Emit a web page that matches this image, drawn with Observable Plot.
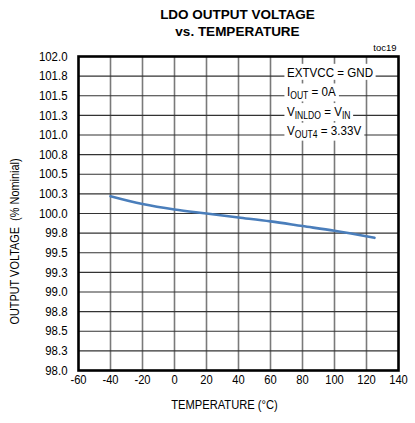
<!DOCTYPE html>
<html><head><meta charset="utf-8">
<script src="https://cdn.jsdelivr.net/npm/d3@7"></script>
<script src="https://cdn.jsdelivr.net/npm/@observablehq/plot@0.6"></script>
<style>
html,body{margin:0;padding:0;background:#fff;}
#wrap{width:415px;font-family:"Liberation Sans",Arial,sans-serif;}
#title{height:40px;box-sizing:border-box;padding-top:6px;padding-left:60px;text-align:center;font-weight:bold;font-size:13.5px;line-height:17px;color:#000;}
svg text{font-family:"Liberation Sans",Arial,sans-serif;}
</style></head>
<body><div id="wrap"><div id="title">LDO OUTPUT VOLTAGE<br>vs. TEMPERATURE</div><div id="chart"></div></div>
<script>
const temperature = [-40, -20, 0, 20, 40, 60, 80, 100, 125];
const voltage = [100.22, 100.12, 100.05, 100.0, 99.95, 99.9, 99.84, 99.78, 99.69];
const xTicks = [-60, -40, -20, 0, 20, 40, 60, 80, 100, 120, 140];
const yTicks = [98, 98.25, 98.5, 98.75, 99, 99.25, 99.5, 99.75, 100, 100.25, 100.5, 100.75, 101, 101.25, 101.5, 101.75, 102];
const yTickLabels = ["98.0", "98.3", "98.5", "98.8", "99.0", "99.3", "99.5", "99.8", "100.0", "100.3", "100.5", "100.8", "101.0", "101.3", "101.5", "101.8", "102.0"];
const annotationLines = [
  [["EXTVCC = GND", ""]],
  [["I", ""], ["OUT", "sub"], [" = 0A", ""]],
  [["V", ""], ["INLDO", "sub"], [" = V", ""], ["IN", "sub"]],
  [["V", ""], ["OUT4", "sub"], [" = 3.33V", ""]]
];
const noteText = "toc19";
const xLabel = "TEMPERATURE (°C)";
const yLabel = "OUTPUT VOLTAGE  (% Nominial)";

const data = temperature.map((t, i) => ({t, v: voltage[i]}));

const plot = Plot.plot({
  width: 415,
  height: 383,
  marginLeft: 78,
  marginRight: 17,
  marginTop: 16,
  marginBottom: 53,
  style: {fontSize: "12px", color: "#000", background: "#fff"},
  x: {domain: [-60, 140], label: null},
  y: {domain: [98, 102], label: null},
  marks: [
    Plot.gridX(xTicks.slice(1, -1), {stroke: "#7a7a7a", strokeOpacity: 1, strokeWidth: 1.6}),
    Plot.gridY(yTicks.slice(1, -1), {stroke: "#333", strokeOpacity: 1, strokeWidth: 1.1}),
    Plot.axisX(xTicks, {tickSize: 0, tickPadding: 4, fontSize: 13, label: null, tickFormat: d => String(d)}),
    Plot.axisY(yTicks, {tickSize: 0, tickPadding: 11, fontSize: 13, label: null,
      tickFormat: v => yTickLabels[yTicks.indexOf(v)]}),
    Plot.line(data, {x: "t", y: "v", stroke: "#4a7ebb", strokeWidth: 2.6, curve: "monotone-x"}),
    Plot.frame({stroke: "#000", strokeWidth: 2.6}),
    Plot.text([noteText], {frameAnchor: "top-right", dy: -12, dx: -2, fontSize: 9.5, textAnchor: "end"}),
    Plot.text([xLabel], {frameAnchor: "bottom", dx: -14, dy: 38, fontSize: 13, textAnchor: "middle"}),
    Plot.text([yLabel], {frameAnchor: "left", dx: -64, dy: 28, rotate: -90, fontSize: 13, textAnchor: "middle"})
  ]
});
document.getElementById("chart").appendChild(plot);
const svg = d3.select(plot);

// condense text horizontally (reference uses a narrow face)
function condense(sel, k) {
  sel.each(function() {
    const tr = this.getAttribute("transform") || "";
    this.setAttribute("transform", tr + ` scale(${k},1)`);
  });
}
condense(svg.selectAll('g[aria-label="x-axis tick label"] text'), 0.86);
condense(svg.selectAll('g[aria-label="y-axis tick label"] text'), 0.88);
svg.selectAll('g[aria-label="text"]').each(function() {
  const t = d3.select(this).select("text");
  const s = t.text();
  if (s === xLabel) condense(t, 0.86);
  if (s === yLabel) condense(t, 0.84);
});

// annotation block with subscripts, anchored via the plot's own scales
const xs = plot.scale("x"), ys = plot.scale("y");
const ax = xs.apply(70) + 1;
const baseY = ys.apply(101.75) + 1;
const lineGap = ys.apply(101.5) - ys.apply(101.75);
const k = 0.86;
const g = svg.append("g").attr("font-size", 13.5).attr("text-anchor", "start")
  .attr("transform", `translate(${ax},0) scale(${k},1)`);
annotationLines.forEach((parts, i) => {
  const t = g.append("text").attr("x", 0).attr("y", baseY + i * lineGap).attr("text-anchor", "start");
  let shifted = false;
  parts.forEach(([s, kind]) => {
    const ts = t.append("tspan").text(s);
    if (kind === "sub") { ts.attr("font-size", 10); if (!shifted) { ts.attr("dy", 3); shifted = true; } }
    else if (shifted) { ts.attr("dy", -3); shifted = false; }
  });
});
g.selectAll("text").each(function() {
  const b = this.getBBox();
  g.insert("rect", ":first-child").attr("x", b.x - 3).attr("y", b.y - 1).attr("width", b.width + 6).attr("height", b.height + 1).attr("fill", "#fff");
});
</script></body></html>
